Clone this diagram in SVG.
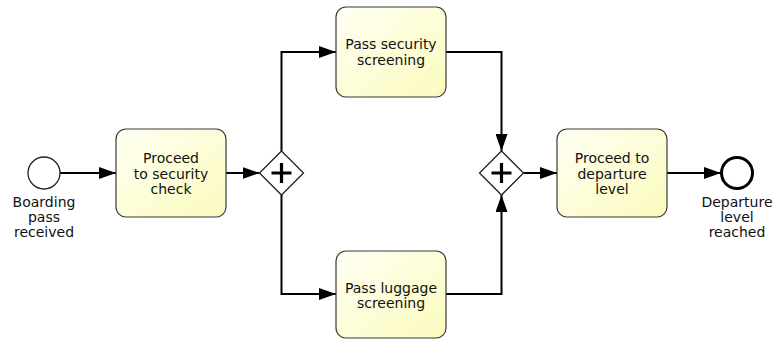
<svg xmlns="http://www.w3.org/2000/svg" width="778" height="342" viewBox="0 0 778 342">
  <defs>
    <linearGradient id="taskFill" x1="0" y1="0" x2="1" y2="1">
      <stop offset="0" stop-color="#fffff4"/>
      <stop offset="1" stop-color="#fbfbbe"/>
    </linearGradient>
    <marker id="arrow" viewBox="0 0 17 12" refX="17" refY="6" markerWidth="17" markerHeight="12" markerUnits="userSpaceOnUse" orient="auto">
      <path d="M0,0 L17,6 L0,12 Z" fill="#000"/>
    </marker>
  </defs>
  <style>
    .task { fill: url(#taskFill); stroke: #3a3a3a; stroke-width: 1.2; }
    .gw { fill: #fff; stroke: #222; stroke-width: 1.3; }
    .plus { stroke: #000; stroke-width: 3.2; fill: none; }
    .flow { fill: none; stroke: #000; stroke-width: 2; marker-end: url(#arrow); }
    .plain { fill: none; stroke: #000; stroke-width: 2; }
    text { font-family: "DejaVu Sans", "Liberation Sans", sans-serif; font-size: 14px; fill: #111; text-anchor: middle; }
  </style>

  <rect width="778" height="342" fill="#fff"/>

  <g id="connectors">
    <line class="flow" x1="60" y1="173" x2="116" y2="173"/>
    <line class="flow" x1="226" y1="173" x2="259.5" y2="173"/>
    <path class="flow" d="M281.5,151 V52 H336"/>
    <path class="flow" d="M281.5,195 V294 H336"/>
    <path class="flow" d="M446,52 H501.5 V151"/>
    <path class="flow" d="M446,294 H501.5 V195"/>
    <line class="flow" x1="523.5" y1="173" x2="557" y2="173"/>
    <line class="flow" x1="667" y1="173" x2="721" y2="173"/>
  </g>

  <g id="start">
    <circle cx="44" cy="173" r="16" fill="#fff" stroke="#222" stroke-width="1.3"/>
    <text x="44" y="207">Boarding</text>
    <text x="44" y="222">pass</text>
    <text x="44" y="237">received</text>
  </g>

  <g id="task-proceed-security">
    <rect class="task" x="116" y="129" width="110" height="88" rx="10"/>
    <text x="171" y="163">Proceed</text>
    <text x="171" y="178.5">to security</text>
    <text x="171" y="194">check</text>
  </g>

  <g id="split">
    <path class="gw" d="M281.5,151 L303.5,173 L281.5,195 L259.5,173 Z"/>
    <path class="plus" d="M271.5,173 H291.5 M281.5,163 V183"/>
  </g>

  <g id="task-security-screening">
    <rect class="task" x="336" y="7" width="110" height="90" rx="10"/>
    <text x="391" y="48.5">Pass security</text>
    <text x="391" y="64.5">screening</text>
  </g>

  <g id="task-luggage-screening">
    <rect class="task" x="336" y="251" width="110" height="87" rx="10"/>
    <text x="391" y="292.5">Pass luggage</text>
    <text x="391" y="307.5">screening</text>
  </g>

  <g id="join">
    <path class="gw" d="M501.5,151 L523.5,173 L501.5,195 L479.5,173 Z"/>
    <path class="plus" d="M491.5,173 H511.5 M501.5,163 V183"/>
  </g>

  <g id="task-proceed-departure">
    <rect class="task" x="557" y="129" width="110" height="88" rx="10"/>
    <text x="612" y="163">Proceed to</text>
    <text x="612" y="178.5">departure</text>
    <text x="612" y="194">level</text>
  </g>

  <g id="end">
    <circle cx="737" cy="173" r="15.5" fill="#fff" stroke="#000" stroke-width="3"/>
    <text x="737" y="207">Departure</text>
    <text x="737" y="222">level</text>
    <text x="737" y="237">reached</text>
  </g>
</svg>
